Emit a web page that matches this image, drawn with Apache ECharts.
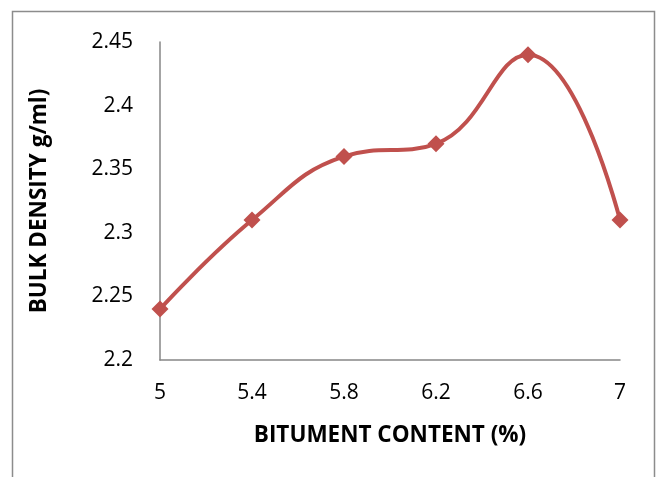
<!DOCTYPE html>
<html><head><meta charset="utf-8">
<script src="https://cdn.jsdelivr.net/npm/echarts@6/dist/echarts.min.js"></script>
<style>html,body{margin:0;padding:0;background:#fff}#c{width:662px;height:477px}</style>
</head><body><div id="c"></div>
<script>
const categories = ['5', '5.4', '5.8', '6.2', '6.6', '7'];
const bulkDensity = [2.24, 2.31, 2.36, 2.37, 2.44, 2.31];
const yMin = 2.2, yMax = 2.45, yStep = 0.05;
const xTitle = 'BITUMENT CONTENT (%)';
const yTitle = 'BULK DENSITY g/ml)';
const font = '"Open Sans", Lato, sans-serif';

const chart = echarts.init(document.getElementById('c'));
chart.setOption({
  animation: false,
  backgroundColor: '#fff',
  graphic: [{
    type: 'rect', shape: { x: 12.5, y: 11.5, width: 642, height: 500 },
    style: { fill: 'none', stroke: '#8c8c8c', lineWidth: 1.5 }
  }],
  grid: { left: 160, right: 42, top: 42, bottom: 117 },
  xAxis: {
    type: 'category', data: categories, boundaryGap: false,
    name: xTitle, nameLocation: 'middle', nameGap: 64,
    nameTextStyle: { fontFamily: font, fontSize: 22.5, fontWeight: 'bold', color: '#000' },
    axisLine: { lineStyle: { color: '#868686', width: 1.5 } },
    axisTick: { show: false },
    axisLabel: { margin: 23, fontFamily: font, fontSize: 21, color: '#000' },
    splitLine: { show: false }
  },
  yAxis: {
    type: 'value', min: yMin, max: yMax, interval: yStep,
    name: yTitle, nameLocation: 'middle', nameGap: 109, nameRotate: 90,
    nameTextStyle: { fontFamily: font, fontSize: 22.5, fontWeight: 'bold', color: '#000' },
    axisLine: { show: true, lineStyle: { color: '#868686', width: 1.5 } },
    axisTick: { show: false },
    axisLabel: { margin: 27, fontFamily: font, fontSize: 21, color: '#000',
      formatter: v => String(parseFloat(v.toFixed(2))) },
    splitLine: { show: false }
  },
  series: [{
    type: 'line', data: bulkDensity, smooth: 0.45,
    lineStyle: { color: '#C0504D', width: 4 },
    itemStyle: { color: '#C0504D' },
    symbol: 'diamond', symbolSize: 17
  }]
});
</script></body></html>
